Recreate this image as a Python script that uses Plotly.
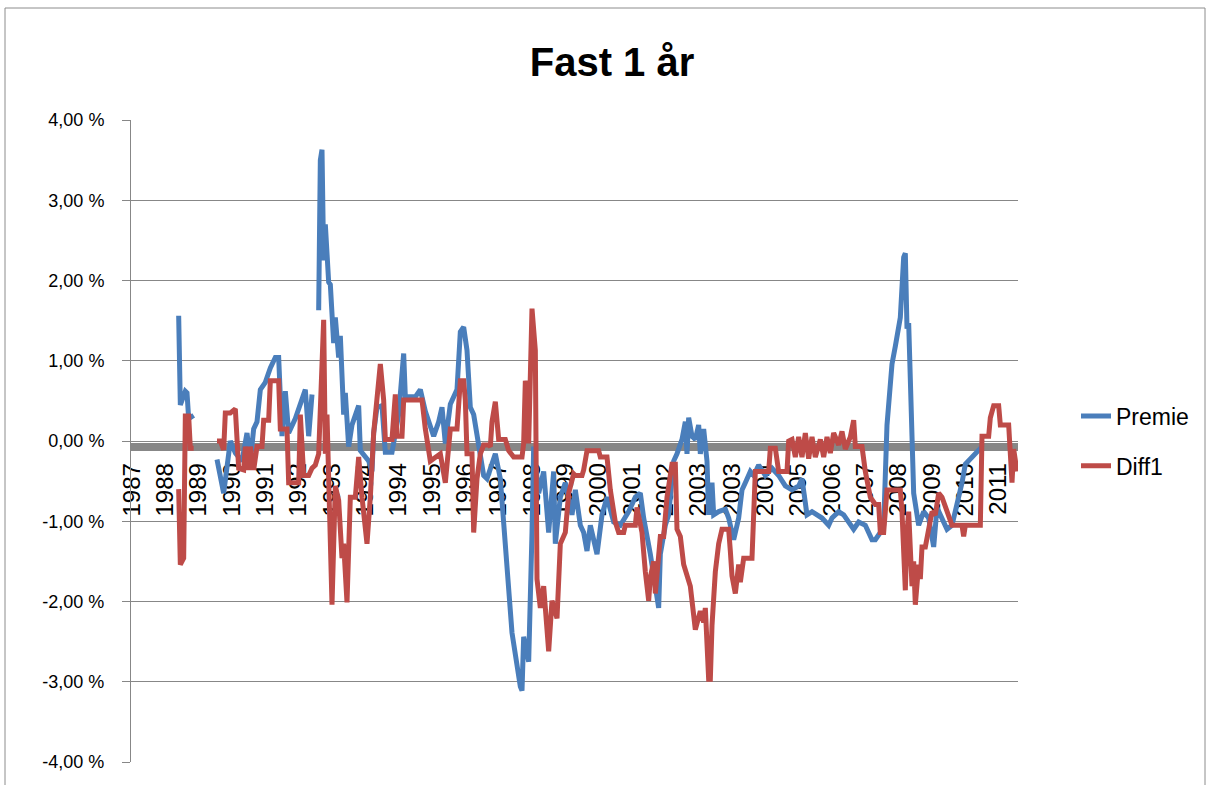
import plotly.graph_objects as go

# ---------------- data ----------------
title_text = "Fast 1 år"
series_names = ["Premie", "Diff1"]

# category labels, one every 20 observations
x_tick_labels = ["1987", "1988", "1989", "1990", "1991", "1992", "1993", "1994", "1994",
                 "1995", "1996", "1997", "1998", "1999", "2000", "2001", "2002", "2003",
                 "2003", "2004", "2005", "2006", "2007", "2008", "2009", "2010", "2011"]
obs_per_label = 20

y_tick_vals = [4, 3, 2, 1, 0, -1, -2, -3, -4]
y_tick_labels = ["4,00 %", "3,00 %", "2,00 %", "1,00 %", "0,00 %",
                 "-1,00 %", "-2,00 %", "-3,00 %", "-4,00 %"]

# Premie (percent), observation index -> value (None = missing)
premie_obs = [28, 29, 32, 33, 34, 37, 38,
              51, 55, 59, 62, 66, 69, 71, 73, 75, 77, 80, 83, 86, 88, 90, 92, 94, 98, 104, 106, 108, 109,
              112, 113, 114, 115, 116, 117, 118, 119, 121, 122, 124, 125, 127, 128, 130, 132, 136, 137,
              142, 144, 145, 147, 150, 152, 156, 160, 163, 164, 170, 173, 176, 181, 184, 186, 188, 191,
              195, 197, 199, 201, 203, 205, 211, 213, 218, 221, 224, 228, 233, 234, 235, 238, 240, 241,
              244, 247, 250, 253, 254, 257, 260, 264, 266, 269, 271, 273, 275, 279, 282, 285, 289, 293,
              298, 302, 305, 307, 311, 313, 316, 317, 320, 322, 323, 325, 327, 330, 332, 333, 334, 336,
              338, 340, 341, 343, 345, 346, 348, 349, 352, 356, 358, 361, 364, 366, 368, 371, 373, 376,
              380, 384, 388, 392, 396, 400, 402, 405, 408, 411, 414, 418, 420, 424, 427, 430, 433, 436,
              440, 444, 446, 449, 451, 453, 454, 456, 458, 461, 463, 464, 465, 466, 468, 469, 472, 475,
              478, 481, 483, 486, 489, 492, 495, 498, 500, 504, 507, 510]
premie_val = [1.56, 0.45, 0.62, 0.60, 0.28, 0.32, None,
              -0.23, -0.65, 0.00, -0.15, -0.25, 0.10, -0.25, 0.15, 0.24, 0.64, 0.73, 0.91, 1.04, 1.04,
              0.06, 0.62, 0.10, 0.28, 0.64, 0.06, 0.58, None,
              1.63, 3.50, 3.63, 2.25, 2.70, 2.43, 1.98, 1.95, 1.22, 1.54, 1.04, 1.31, 0.33, 0.60, -0.07,
              0.20, 0.44, -0.12, -0.25, -0.38, 0.10, 0.42, 0.44, -0.14, -0.14, 0.33, 1.09, 0.55, 0.55,
              0.64, 0.37, 0.06, 0.24, 0.42, -0.03, 0.46, 0.64, 1.36, 1.42, 1.13, 0.42, 0.33, -0.43,
              -0.47, -0.16, -0.47, -1.23, -2.39, -3.06, -3.11, -2.44, -2.75, -1.14, -0.07, -0.65, -0.38,
              -1.14, -0.38, -1.28, -0.70, -0.52, -0.92, -0.61, -1.05, -1.14, -1.37, -1.05, -1.41, -0.92,
              -0.70, -1.01, -1.05, -0.88, -0.70, -0.65, -0.96, -1.41, -1.68, -2.08, -1.41, -1.05, -0.92,
              -0.70, -0.25, -0.16, 0.02, 0.24, -0.16, 0.29, 0.06, 0.02, 0.20, -0.16, 0.15, -0.25, -0.92,
              -0.52, -0.92, -0.88, -0.85, -0.96, -1.23, -0.96, -0.61, -0.52, -0.38, -0.43, -0.30, -0.43,
              -0.34, -0.43, -0.56, -0.61, -0.56, -0.47, -0.92, -0.88, -0.92, -0.96, -1.05, -0.96, -0.88,
              -0.92, -1.01, -1.10, -1.01, -1.05, -1.23, -1.23, -1.14, -1.05, 0.20, 0.42, 0.96, 1.18,
              1.54, 2.29, 2.34, 1.40, 1.47, 0.06, -0.65, -1.05, -0.88, -0.96, -1.32, -0.83, -0.96,
              -1.10, -1.05, -0.79, -0.52, -0.29, -0.20, -0.12, -0.07]

# Diff1 (percent)
diff1_obs = [28, 29, 31, 32, 34, 35, 37, 38,
             51, 53, 55, 56, 59, 62, 64, 67, 68, 70, 71, 73, 75, 78, 79, 82, 83, 88, 89, 93, 94, 100,
             101, 103, 106, 108, 110, 112, 115, 116, 117, 118, 120, 122, 124, 126, 127, 129, 131, 134,
             136, 138, 141, 143, 145, 149, 151, 152, 156, 158, 159, 162, 163, 174, 176, 179, 184, 185,
             188, 190, 191, 195, 197, 199, 200, 201, 204, 205, 207, 209, 211, 214, 215, 216, 218, 220,
             224, 226, 229, 234, 235, 236, 237, 238, 240, 242, 243, 245, 247, 250, 252, 255, 257, 260,
             262, 265, 266, 270, 271, 273, 280, 281, 285, 287, 290, 292, 295, 296, 302, 303, 306, 308,
             310, 311, 313, 314, 317, 319, 321, 324, 326, 327, 329, 331, 335, 337, 338, 341, 343, 344,
             346, 347, 348, 350, 352, 354, 358, 359, 360, 362, 364, 365, 367, 372, 373, 374, 382, 383,
             386, 388, 393, 394, 396, 398, 400, 402, 404, 406, 408, 410, 413, 415, 417, 419, 421, 424,
             426, 428, 431, 433, 434, 438, 440, 443, 446, 448, 449, 451, 453, 461, 462, 464, 465, 466,
             468, 469, 470, 472, 473, 474, 476, 478, 480, 482, 484, 486, 488, 492, 498, 499, 500, 509,
             510, 514, 515, 517, 520, 521, 526, 527, 528, 529, 531]
diff1_val = [-0.60, -1.54, -1.46, 0.31, 0.31, -0.09, -0.09, None,
             0.00, 0.00, -0.11, 0.35, 0.35, 0.40, -0.34, -0.36, -0.07, -0.36, -0.07, -0.36, -0.07,
             -0.07, 0.26, 0.26, 0.75, 0.75, 0.15, 0.15, -0.52, -0.52, 0.33, -0.43, -0.43, -0.34, -0.30,
             -0.16, 1.51, -0.16, 0.33, -0.70, -2.04, -0.56, -0.74, -1.46, -1.28, -2.01, -0.70, -0.70,
             -0.20, -0.70, -1.28, -0.70, 0.10, 0.96, 0.51, 0.02, 0.02, 0.58, 0.06, 0.06, 0.51, 0.51,
             0.15, -0.25, -0.16, -0.16, -0.52, -0.12, 0.15, 0.15, 0.75, 0.75, 0.51, -0.16, -0.16, -1.14,
             -0.47, -0.16, -0.05, -0.05, -0.07, 0.24, 0.49, 0.02, 0.02, -0.12, -0.20, -0.20, -0.03,
             0.75, 0.64, -0.03, 1.65, 1.13, -1.72, -2.08, -1.81, -2.62, -1.99, -2.21, -1.28, -1.14,
             -0.65, -0.41, -0.43, -0.43, -0.36, -0.12, -0.12, -0.20, -0.20, -0.61, -1.01, -1.14, -1.14,
             -1.05, -1.05, -0.83, -1.14, -1.63, -1.99, -1.70, -1.50, -1.90, -1.19, -1.19, -0.70, -0.29,
             -0.29, -1.10, -1.19, -1.54, -1.81, -2.17, -2.35, -2.12, -2.26, -2.08, -2.97, -2.97, -2.30,
             -1.63, -1.28, -1.10, -1.10, -1.37, -1.68, -1.90, -1.54, -1.76, -1.46, -1.46, -0.96, -0.38,
             -0.38, -0.09, -0.09, -0.38, -0.38, 0.00, 0.02, -0.20, 0.05, -0.20, 0.10, -0.22, 0.05,
             -0.20, 0.02, -0.20, 0.05, -0.15, 0.10, -0.05, 0.12, -0.10, 0.05, 0.26, -0.07, -0.07, -0.38,
             -0.70, -0.79, -0.79, -1.14, -1.14, -0.61, -0.61, -0.88, -1.86, -1.14, -0.88, -1.81, -1.50,
             -2.04, -1.54, -1.72, -1.32, -1.32, -1.05, -0.88, -0.92, -0.65, -0.70, -0.83, -1.05, -1.05,
             -1.19, -1.05, -1.05, 0.06, 0.06, 0.29, 0.44, 0.44, 0.20, 0.20, -0.10, -0.52, -0.10, -0.38]

# ---------------- figure ----------------
FONT = "Liberation Sans"
GRID = "#878787"
W, H = 1209, 785
ML, MR, MT, MB = 131, 191, 120, 23
PW, PH = W - ML - MR, H - MT - MB

def px_x(px):
    return (px - ML) / PW

def px_y(py):
    return (H - MB - py) / PH

fig = go.Figure()
fig.add_trace(go.Scatter(x=premie_obs, y=premie_val, mode="lines", name=series_names[0],
                         line=dict(color="#4a7ebb", width=5), connectgaps=False,
                         legendgroup="a"))
fig.add_trace(go.Scatter(x=diff1_obs, y=diff1_val, mode="lines", name=series_names[1],
                         line=dict(color="#be4b48", width=5), connectgaps=False,
                         legendgroup="b"))

tick_vals = [i * obs_per_label for i in range(len(x_tick_labels))]

fig.update_layout(
    width=W, height=H,
    margin=dict(l=ML, r=MR, t=MT, b=MB, pad=0),
    paper_bgcolor="white", plot_bgcolor="white",
    font=dict(family=FONT, color="black"),
    title=dict(text="<b>" + title_text + "</b>", x=612 / W, xanchor="center",
               y=1 - 62 / H, yanchor="middle", xref="container", yref="container",
               font=dict(family=FONT, size=40, color="black")),
    xaxis=dict(range=[-0.6, 531.6], tickvals=tick_vals, ticktext=x_tick_labels,
               tickangle=-90, anchor="free", position=px_y(446.5),
               showline=True, linewidth=8, linecolor=GRID, showgrid=False,
               zeroline=False, ticks="", ticklabelstandoff=3,
               tickfont=dict(family=FONT, size=24, color="black"),
               layer="below traces"),
    yaxis=dict(range=[-4, 4], tickvals=y_tick_vals, ticktext=y_tick_labels,
               showgrid=True, gridcolor=GRID, gridwidth=1, zeroline=False,
               showline=True, linecolor=GRID, linewidth=1, ticks="outside", ticklen=8,
               tickcolor=GRID, tickfont=dict(family=FONT, size=18, color="black"),
               ticklabelstandoff=14),
    legend=dict(x=px_x(1076), y=0.5, xanchor="left", yanchor="middle",
                font=dict(family=FONT, size=23, color="black"),
                tracegroupgap=17, bgcolor="rgba(0,0,0,0)"),
    shapes=[dict(type="rect", xref="paper", yref="paper",
                 x0=px_x(5), x1=px_x(1205), y0=px_y(800), y1=px_y(8),
                 line=dict(color="#8c8c8c", width=1), layer="below")],
)

fig.write_html("out.html")
